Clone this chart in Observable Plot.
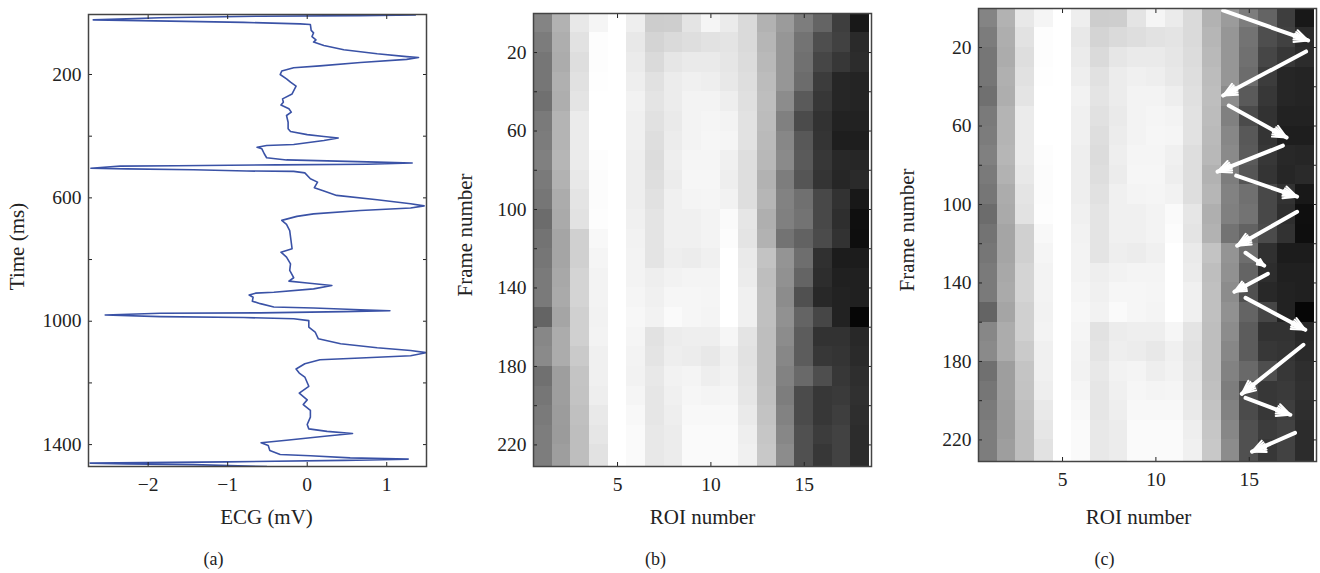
<!DOCTYPE html>
<html><head><meta charset="utf-8">
<script src="https://cdn.jsdelivr.net/npm/d3@7"></script>
<script src="https://cdn.jsdelivr.net/npm/@observablehq/plot@0.6"></script>
<style>
html,body{margin:0;padding:0;background:#fff;width:1320px;height:573px;overflow:hidden}
.p{position:absolute;top:0}
</style></head><body>
<div id="a" class="p" style="left:0"></div>
<div id="b" class="p" style="left:480px"></div>
<div id="c" class="p" style="left:900px"></div>
<script>
const ecgMv = [1.36,.67,-.59,-1.85,-2.69,-1.72,-.80,-.09,.04,.05,.08,.06,.11,.08,.21,.46,.88,1.25,1.40,1.25,.67,.16,-.17,-.32,-.34,-.26,-.21,-.14,-.19,-.31,-.30,-.33,-.23,-.20,-.26,-.24,-.24,-.21,0,.21,.39,.21,-.17,-.51,-.63,-.57,-.54,-.51,-.26,.25,.88,1.32,.75,-.38,-1.64,-2.35,-2.72,-2.27,-1.43,-.76,-.17,-.03,.04,.13,.09,.21,.37,.88,1.30,1.47,1.30,.67,.08,-.13,-.32,-.26,-.22,-.19,-.33,-.26,-.21,-.22,-.17,-.23,0,.31,.08,-.42,-.65,-.73,-.68,-.69,-.59,-.42,.08,.67,1.04,.46,-.59,-1.85,-2.54,-1.85,-.80,-.17,.02,.02,.10,.14,.42,.88,1.30,1.50,1.30,.67,.16,-.03,-.14,-.10,-.03,.02,-.10,0,-.05,.04,.04,0,.02,.25,.57,.25,-.26,-.58,-.49,-.47,-.34,.04,.54,1.27,.46,-1.01,-2.73,-2.27,-1.43,-.51];
const ecgTime = [7,9,11,16,23,27,31,36,38,57,65,77,88,95,106,120,133,142,145,151,161,172,178,189,200,214,225,238,263,279,290,299,311,322,333,355,376,385,395,401,406,414,427,430,436,441,457,470,477,480,484,487,491,493,496,497,504,506,509,513,514,519,538,549,567,578,592,606,619,626,633,641,652,660,673,686,706,765,776,792,814,835,859,870,876,884,895,906,909,915,922,935,943,954,957,963,966,969,973,974,980,985,988,992,998,1019,1035,1057,1073,1086,1095,1102,1112,1119,1125,1138,1155,1168,1181,1211,1233,1255,1270,1289,1311,1335,1349,1357,1364,1372,1386,1394,1403,1419,1432,1436,1443,1447,1451,1456,1460,1463,1465,1471];

// gray level per 10-frame band, one list per ROI
const roi1 =[132,124,118,118,112,122,124,128,122,118,108,115,118,122,122,100,135,138,112,118,122,125,125];
const roi2 =[178,174,172,176,174,180,180,182,178,172,170,165,165,168,170,165,172,172,158,158,156,155,158];
const roi3 =[232,226,222,225,228,235,235,235,232,228,226,208,208,212,212,208,208,202,196,195,192,190,190];
const roi4 =[245,253,253,254,255,255,255,253,252,252,253,248,245,243,243,242,243,240,240,238,233,230,226];
const roi5 =[255,255,255,255,255,255,255,255,255,255,255,255,255,255,255,255,255,255,255,255,255,255,255];
const roi6 =[238,232,235,238,242,240,240,238,238,238,240,242,243,243,245,247,245,243,242,245,248,250,250];
const roi7 =[205,212,218,225,228,225,222,220,222,225,228,228,228,238,240,242,226,228,232,230,230,232,232];
const roi8 =[206,218,230,236,236,234,236,238,236,240,240,240,238,242,246,250,236,238,242,240,238,236,236];
const roi9 =[228,222,234,240,243,243,243,245,246,244,240,240,236,244,246,246,238,236,244,246,248,250,250];
const roi10=[245,226,234,238,243,245,246,245,246,245,243,243,240,244,245,244,238,232,238,244,248,250,250];
const roi11=[235,228,230,232,238,243,245,240,238,242,250,252,255,255,255,255,246,240,242,245,248,250,250];
const roi12=[218,218,220,222,224,226,226,222,222,222,230,228,234,236,240,240,228,226,228,230,234,238,240];
const roi13=[178,182,185,188,190,188,186,184,178,182,175,178,195,190,192,192,190,190,190,192,195,198,200];
const roi14=[155,150,150,150,140,128,135,138,125,130,128,115,148,145,140,145,140,135,130,125,130,135,140];
const roi15=[125,115,112,108,90,75,88,90,85,112,115,98,110,100,80,100,92,92,105,75,75,80,80];
const roi16=[100,78,70,60,55,50,52,55,52,72,72,75,48,45,40,70,50,55,78,55,55,60,55];
const roi17=[62,65,55,38,38,34,30,40,38,50,46,50,28,32,34,34,50,52,55,58,62,66,66];
const roi18=[24,42,44,36,36,34,30,38,42,24,15,14,28,32,32,6,40,42,46,48,46,44,44];
const rois=[roi1,roi2,roi3,roi4,roi5,roi6,roi7,roi8,roi9,roi10,roi11,roi12,roi13,roi14,roi15,roi16,roi17,roi18];
const frameBandStart=[0,10,20,30,40,50,60,70,80,90,100,110,120,130,140,150,160,170,180,190,200,210,220];
const frameBandEnd=[10,20,30,40,50,60,70,80,90,100,110,120,130,140,150,160,170,180,190,200,210,220,232];

const arrowRoiStart=[13.6,18.04,13.9,16.8,14.3,17.56,14.8,16.0,14.8,17.9,14.8,17.45];
const arrowFrameStart=[1.1,22,49.6,70,85.3,103.7,124.6,135.3,147.6,171.5,198.6,216.4];
const arrowRoiEnd=[18.15,13.6,17.0,13.3,17.56,14.35,15.8,14.2,18.0,14.6,17.2,15.15];
const arrowFrameEnd=[16.4,44.5,65.9,83.3,96,121,131.2,144.5,163.9,196.5,207.2,226];

const xTicksA=[-2,-1,0,1], yTicksA=[200,400,600,800,1000,1200,1400], yLabelsA=[200,600,1000,1400];
const xTicksB=[5,10,15], yTicksB=[20,40,60,80,100,120,140,160,180,200,220], yLabelsB=[20,60,100,140,180,220];
const FONT="'Liberation Serif',serif", INK="#222", FS=19.5;

const heat=[];
rois.forEach((vals,i)=>vals.forEach((g,j)=>heat.push({r:i+1,f1:frameBandStart[j],f2:frameBandEnd[j],g})));
const arrows=arrowRoiStart.map((d,i)=>({x1:d,y1:arrowFrameStart[i],x2:arrowRoiEnd[i],y2:arrowFrameEnd[i]}));

function fmt(labels){return d=>labels.includes(d)?String(d).replace("-","−"):"";}
function axes(xt,yt,yl,pad){return [
  Plot.axisX({anchor:"bottom",ticks:xt,tickSize:-4,tickPadding:pad,tickFormat:fmt(xt),label:null,fontSize:FS,stroke:INK,color:INK}),
  Plot.axisX({anchor:"top",ticks:xt,tickSize:-4,tickFormat:()=>"",label:null,stroke:INK}),
  Plot.axisY({anchor:"left",ticks:yt,tickSize:-4,tickPadding:11,tickFormat:fmt(yl),label:null,fontSize:FS,stroke:INK,color:INK}),
  Plot.axisY({anchor:"right",ticks:yt,tickSize:-4,tickFormat:()=>"",label:null,stroke:INK}),
  Plot.frame({stroke:"#444",strokeWidth:1.5})
];}
function labels(xl,yl,cap,o){return [
  Plot.text([xl],{frameAnchor:"bottom",dx:o.xdx,dy:o.xdy,fontSize:21,fill:INK}),
  Plot.text([yl],{frameAnchor:"left",textAnchor:"middle",dx:o.ydx,dy:o.ydy,rotate:-90,fontSize:21,fill:INK}),
  Plot.text([cap],{frameAnchor:"bottom",dx:o.cdx,dy:o.cdy,fontSize:18,fill:INK})
];}

document.getElementById("a").append(Plot.plot({
  width:480,height:573,marginLeft:88,marginRight:54,marginTop:14,marginBottom:107,
  style:{fontFamily:FONT,background:"#fff",overflow:"visible"},
  x:{domain:[-2.75,1.5]},y:{domain:[5.5,1471],reverse:true},
  marks:[
    Plot.line(ecgMv.map((v,i)=>({v,t:ecgTime[i]})),{x:"v",y:"t",stroke:"#3a52a6",strokeWidth:1.6,clip:true,curve:"linear"}),
    ...axes(xTicksA,yTicksA,yLabelsA,15),
    ...labels("ECG (mV)","Time (ms)","(a)",{xdx:9,xdy:57,ydx:-71,ydy:6,cdx:-44,cdy:98})
  ]
}));

function heatPlot(ml,mr,mt,mb,extra,cap,pad,o){
  return Plot.plot({
    width:420,height:573,marginLeft:ml,marginRight:mr,marginTop:mt,marginBottom:mb,
    style:{fontFamily:FONT,background:"#fff",overflow:"visible"},
    x:{domain:[0.5,18.6]},y:{domain:[0.1,231],reverse:true},
    color:{type:"linear",domain:[0,255],range:["#000","#fff"]},
    marks:[
      Plot.rect(heat,{x1:d=>d.r-0.5,x2:d=>d.r+0.5,y1:"f1",y2:"f2",fill:"g",shapeRendering:"crispEdges",clip:true}),
      ...extra,
      ...axes(xTicksB,yTicksB,yLabelsB,pad),
      ...labels("ROI number","Frame number",cap,o)
    ]
  });
}
document.getElementById("b").append(heatPlot(53,29,13,107,[],"(b)",15,{xdx:0,xdy:57,ydx:-68,ydy:-5,cdx:-47,cdy:98}));
const arrowOpts={x1:"x1",y1:"y1",x2:"x2",y2:"y2",stroke:"#fff",bend:0};
const arrowMarks=[
  Plot.arrow(arrows,{...arrowOpts,strokeWidth:4,headLength:0}),
  Plot.arrow(arrows,{...arrowOpts,strokeWidth:2,headLength:11,headAngle:50}),
  Plot.arrow(arrows,{...arrowOpts,strokeWidth:2,headLength:11,headAngle:32}),
  Plot.arrow(arrows,{...arrowOpts,strokeWidth:2,headLength:11,headAngle:16})
];
document.getElementById("c").append(heatPlot(78,4,8,112,arrowMarks,"(c)",15,{xdx:-9,xdy:62,ydx:-71,ydy:-5,cdx:-43,cdy:103}));
</script>
</body></html>
